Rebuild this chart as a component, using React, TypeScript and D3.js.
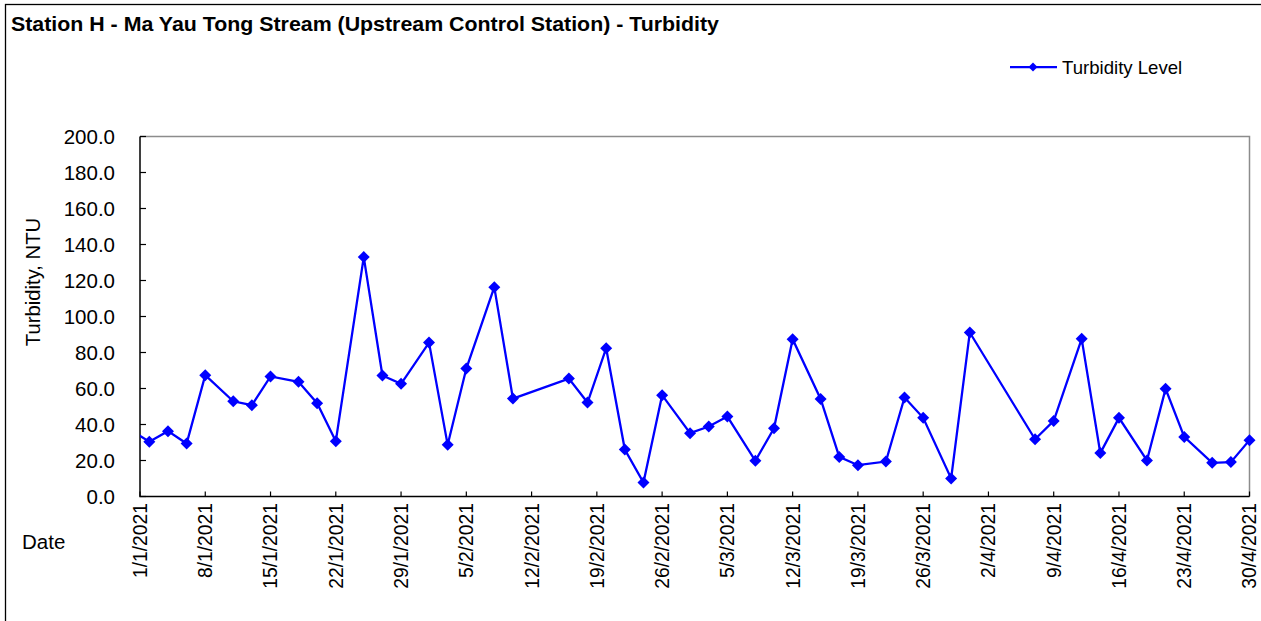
import React from "react";
import * as d3 from "d3";

const dates: string[] = [
  "2020-12-30", "2021-01-02", "2021-01-04", "2021-01-06", "2021-01-08", "2021-01-11", "2021-01-13",
  "2021-01-15", "2021-01-18", "2021-01-20", "2021-01-22", "2021-01-25", "2021-01-27", "2021-01-29",
  "2021-02-01", "2021-02-03", "2021-02-05", "2021-02-08", "2021-02-10", "2021-02-16", "2021-02-18",
  "2021-02-20", "2021-02-22", "2021-02-24", "2021-02-26", "2021-03-01", "2021-03-03", "2021-03-05",
  "2021-03-08", "2021-03-10", "2021-03-12", "2021-03-15", "2021-03-17", "2021-03-19", "2021-03-22",
  "2021-03-24", "2021-03-26", "2021-03-29", "2021-03-31", "2021-04-07", "2021-04-09", "2021-04-12",
  "2021-04-14", "2021-04-16", "2021-04-19", "2021-04-21", "2021-04-23", "2021-04-26", "2021-04-28",
  "2021-04-30",
];

const turbidity: number[] = [
  40.3, 30.4, 36.3, 29.4, 67.4, 52.9, 50.7,
  66.7, 63.7, 51.8, 30.7, 133.0, 67.2, 62.6,
  85.5, 28.7, 71.1, 116.3, 54.4, 65.5, 52.2,
  82.4, 26.1, 7.8, 56.3, 35.2, 38.9, 44.4,
  19.8, 37.9, 87.4, 54.2, 22.0, 17.4, 19.4,
  55.0, 43.7, 10.0, 91.1, 31.8, 42.0, 87.6,
  24.1, 43.7, 20.0, 59.8, 33.1, 18.7, 19.1,
  31.3,
];

const yTicks: number[] = [0, 20, 40, 60, 80, 100, 120, 140, 160, 180, 200];
const xTickStart = "2021-01-01";
const xTickEnd = "2021-04-30";
const xTickStepDays = 7;

const title = "Station H - Ma Yau Tong Stream (Upstream Control Station) - Turbidity";
const seriesName = "Turbidity Level";
const yTitle = "Turbidity, NTU";
const xTitle = "Date";

const W = 1261;
const H = 621;
const L = 140;
const R = 1249.5;
const T = 136.5;
const B = 496.5;
const FONT = "'Liberation Sans', Arial, Helvetica, sans-serif";
const BLUE = "#0000FF";

const parse = (s: string) => new Date(s + "T00:00:00Z");

function diamond(x: number, y: number, r: number) {
  return `M${x},${y - r}L${x + r},${y}L${x},${y + r}L${x - r},${y}Z`;
}

export default function App() {
  const start = parse(xTickStart);
  const end = parse(xTickEnd);
  const x = d3.scaleUtc().domain([start, end]).range([L, R]);
  const y = d3.scaleLinear().domain([0, 200]).range([B, T]);

  const ticks: Date[] = [];
  for (let t = start; +t <= +end; t = d3.utcDay.offset(t, xTickStepDays)) ticks.push(t);
  const fmt = (d: Date) => `${d.getUTCDate()}/${d.getUTCMonth() + 1}/${d.getUTCFullYear()}`;

  const pts = dates.map((d, i) => ({ d: parse(d), v: turbidity[i] }));
  const line = d3
    .line<{ d: Date; v: number }>()
    .x((p) => x(p.d))
    .y((p) => y(p.v));

  const visible = pts.filter((p) => +p.d >= +start && +p.d <= +end);

  return (
    <svg
      width={W}
      height={H}
      style={{ position: "absolute", left: 0, top: 0, background: "#fff" }}
      fontFamily={FONT}
    >
      <defs>
        <clipPath id="plotClip">
          <rect x={L} y={T - 10} width={R - L} height={B - T + 20} />
        </clipPath>
      </defs>
      <rect x={0} y={0} width={W} height={H} fill="#fff" />
      <rect x={5.5} y={4.5} width={W + 50} height={H + 50} fill="none" stroke="#000" strokeWidth={1.3} />

      <text x={11} y={31} fontSize={21} fontWeight="bold" fill="#000" textLength={708} lengthAdjust="spacingAndGlyphs">
        {title}
      </text>

      <line x1={1010} x2={1057} y1={67} y2={67} stroke={BLUE} strokeWidth={2.25} />
      <path d={diamond(1033, 67, 4.5)} fill={BLUE} />
      <text x={1062} y={73.5} fontSize={18.6} fill="#000">
        {seriesName}
      </text>

      <path d={`M${L},${T}H${R}V${B}`} fill="none" stroke="#8c8c8c" strokeWidth={1.5} />

      {yTicks.map((t) => (
        <g key={t}>
          <line x1={L} x2={L + 6} y1={y(t)} y2={y(t)} stroke="#000" strokeWidth={1.2} />
          <text x={115} y={y(t)} dy="0.36em" textAnchor="end" fontSize={20.5} fill="#000">
            {t.toFixed(1)}
          </text>
        </g>
      ))}

      {ticks.map((t) => (
        <g key={+t}>
          <line x1={x(t)} x2={x(t)} y1={B} y2={B - 5} stroke="#000" strokeWidth={1.2} />
          <text
            transform={`translate(${x(t)},${503}) rotate(-90)`}
            dy="0.36em"
            textAnchor="end"
            fontSize={19.3}
            fill="#000"
          >
            {fmt(t)}
          </text>
        </g>
      ))}

      <path d={`M${L},${T}V${B}H${R}`} fill="none" stroke="#000" strokeWidth={1.5} />

      <text transform={`translate(33,282) rotate(-90)`} dy="0.36em" textAnchor="middle" fontSize={20.3} fill="#000">
        {yTitle}
      </text>
      <text x={22} y={549} fontSize={20.5} fill="#000">
        {xTitle}
      </text>

      <path d={line(pts) || ""} fill="none" stroke={BLUE} strokeWidth={2.3} strokeLinejoin="miter" clipPath="url(#plotClip)" />
      {visible.map((p, i) => (
        <path key={i} d={diamond(x(p.d), y(p.v), 6)} fill={BLUE} />
      ))}
    </svg>
  );
}
